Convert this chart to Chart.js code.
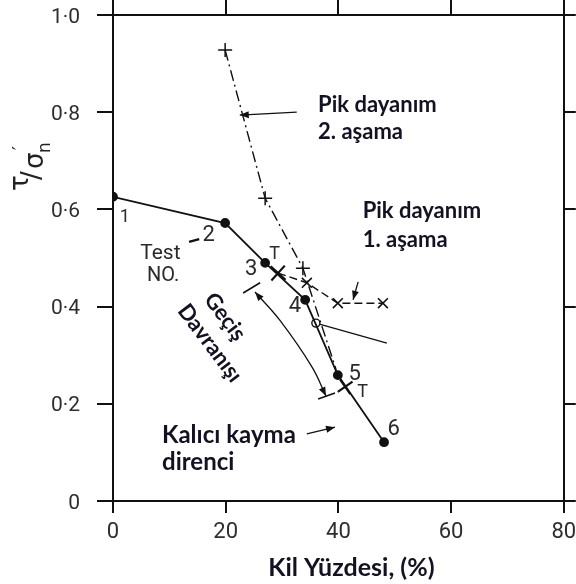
<!doctype html>
<html lang="tr">
  <head>
    <meta charset="UTF-8" />
    <title>Kil yüzdesi - kayma direnci</title>
    <script src="https://cdn.jsdelivr.net/npm/chart.js"></script>
    <style>
      html,
      body {
        margin: 0;
        padding: 0;
        background: #fff;
      }
    </style>
  </head>
  <body>
    <canvas id="clayChart" width="576" height="584"></canvas>

    <script>
      // test results: clay % vs tau / sigma_n'
      const testClay = [0, 19.9, 27.0, 34.1, 39.9, 48.1]
      const testRatio = [0.626, 0.572, 0.49, 0.414, 0.259, 0.121]
      const testNo = ['1', '2', '3', '4', '5', '6']

      // peak strength, stage 2 (+ marks)
      const stage2Clay = [19.9, 27.0, 33.7, 39.6]
      const stage2Ratio = [0.928, 0.623, 0.479, 0.27]

      // peak strength, stage 1 (x marks)
      const stage1Clay = [29.3, 34.4, 39.9, 47.9]
      const stage1Ratio = [0.469, 0.449, 0.407, 0.407]

      // transition marks "T"
      const transClay = [29.3, 41.2]
      const transRatio = [0.469, 0.235]

      // branch leaving the open circle
      const branchClay = [36.0, 48.6]
      const branchRatio = [0.366, 0.325]

      // curved range arrow (transitional behaviour) and its end bars
      const rangeClay = [25.2, 29.6, 35.3, 37.8]
      const rangeRatio = [0.43, 0.372, 0.276, 0.216]
      const capClay = [[23.1, 26.1], [36.4, 39.4]]
      const capRatio = [[0.428, 0.449], [0.21, 0.222]]

      // pointer arrows (from -> to)
      const pointerClay = [[32.6, 22.5], [43.5, 42.6], [34.4, 39.4], [13.5, 15.3]]
      const pointerRatio = [[0.8, 0.794], [0.451, 0.414], [0.138, 0.152], [0.533, 0.539]]

      // axis ticks
      const xTicks = [0, 20, 40, 60, 80]
      const yTicks = [0, 0.2, 0.4, 0.6, 0.8, 1.0]
      const yTickLabels = ['0', '0·2', '0·4', '0·6', '0·8', '1·0']

      const ink = '#111'
      const pts = (xs, ys) => xs.map((v, i) => ({ x: v, y: ys[i] }))

      function lineSet(data, extra) {
        return Object.assign(
          {
            data,
            showLine: true,
            borderColor: ink,
            backgroundColor: ink,
            borderWidth: 1.4,
            pointRadius: 0,
            tension: 0,
          },
          extra,
        )
      }

      const datasets = [
        lineSet(pts(testClay, testRatio), { borderWidth: 1.8, pointRadius: 4 }),
        lineSet(pts(stage2Clay, stage2Ratio), {
          borderDash: [11, 4, 2, 4],
          pointStyle: 'cross',
          pointRadius: [7, 7, 7, 0],
          pointBorderWidth: 1.5,
        }),
        lineSet(pts(stage1Clay, stage1Ratio), {
          borderDash: [8, 4],
          pointStyle: 'crossRot',
          pointRadius: [0, 7, 7, 7],
          pointBorderWidth: 1.6,
        }),
        lineSet(pts(transClay, transRatio), {
          showLine: false,
          pointStyle: 'cross',
          pointRadius: [10, 9],
          pointRotation: [42, 55],
          pointBorderWidth: 2.2,
        }),
        lineSet(pts(branchClay, branchRatio), {
          pointRadius: [4, 0],
          pointBackgroundColor: '#fff',
          pointBorderWidth: 1.4,
          borderWidth: 1.3,
        }),
        lineSet(pts(rangeClay, rangeRatio), { tension: 0.4, borderWidth: 1.3 }),
      ]
      capClay.forEach((c, i) => datasets.push(lineSet(pts(c, capRatio[i]), { borderWidth: 1.6 })))
      pointerClay.forEach((c, i) =>
        datasets.push(lineSet(pts(c, pointerRatio[i]), { borderWidth: i === 3 ? 2.4 : 1.3 })),
      )

      function head(ctx, x0, y0, x1, y1, len, half) {
        const a = Math.atan2(y1 - y0, x1 - x0)
        ctx.save()
        ctx.translate(x1, y1)
        ctx.rotate(a)
        ctx.beginPath()
        ctx.moveTo(0, 0)
        ctx.lineTo(-len, -half)
        ctx.lineTo(-len, half)
        ctx.closePath()
        ctx.fill()
        ctx.restore()
      }

      const overlay = {
        id: 'overlay',
        afterDatasetsDraw(chart) {
          const { ctx, chartArea } = chart
          const sx = chart.scales.x
          const sy = chart.scales.y
          const px = (v) => sx.getPixelForValue(v)
          const py = (v) => sy.getPixelForValue(v)
          ctx.save()
          ctx.fillStyle = ink

          // arrow heads
          for (let i = 0; i < 3; i++) {
            const c = pointerClay[i]
            const r = pointerRatio[i]
            head(ctx, px(c[0]), py(r[0]), px(c[1]), py(r[1]), 9, 3.5)
          }
          const n = rangeClay.length
          head(ctx, px(rangeClay[1]), py(rangeRatio[1]), px(rangeClay[0]), py(rangeRatio[0]), 9, 3.5)
          head(
            ctx,
            px(rangeClay[n - 2]),
            py(rangeRatio[n - 2]),
            px(rangeClay[n - 1]),
            py(rangeRatio[n - 1]),
            9,
            3.5,
          )

          // tick labels
          ctx.fillStyle = '#2e2e2e'
          ctx.textBaseline = 'alphabetic'
          ctx.font = '22px Roboto'
          ctx.textAlign = 'center'
          xTicks.forEach((v) => ctx.fillText(String(v), px(v), chartArea.bottom + 37))
          ctx.font = '21px Roboto'
          ctx.textAlign = 'right'
          yTicks.forEach((v, i) => ctx.fillText(yTickLabels[i], chartArea.left - 33, py(v) + 7.5))

          // test numbers and T marks
          ctx.fillStyle = '#2a2a2a'
          ctx.textAlign = 'center'
          ctx.textBaseline = 'middle'
          const numPos = [
            [2.1, 0.584],
            [17.0, 0.547],
            [24.5, 0.477],
            [32.3, 0.401],
            [42.9, 0.261],
            [49.8, 0.148],
          ]
          testNo.forEach((t, i) => {
            ctx.font = (i === 0 ? '18px' : '22px') + ' Roboto'
            ctx.fillText(t, px(numPos[i][0]), py(numPos[i][1]))
          })
          ctx.font = '18px Roboto'
          ctx.fillText('T', px(28.7), py(0.508))
          ctx.fillText('T', px(44.3), py(0.224))

          ctx.textBaseline = 'alphabetic'
          ctx.font = '21px Roboto'
          ctx.fillText('Test', px(8.4), py(0.498))
          ctx.font = '20px Roboto'
          ctx.fillText('NO.', px(8.9), py(0.453))

          // bold Turkish notes
          ctx.fillStyle = '#121222'
          ctx.textAlign = 'left'
          const notes = [
            { lines: ['Pik dayanım', '2. aşama'], x: 36.4, y: 0.8, size: 22, gap: 27 },
            { lines: ['Pik dayanım', '1. aşama'], x: 44.3, y: 0.582, size: 22, gap: 29 },
            { lines: ['Kalıcı kayma', 'direnci'], x: 8.7, y: 0.119, size: 24, gap: 27 },
          ]
          notes.forEach((nt) => {
            ctx.font = 'bold ' + nt.size + 'px Lato'
            nt.lines.forEach((l, k) => ctx.fillText(l, px(nt.x), py(nt.y) + k * nt.gap))
          })

          const rot = (53 * Math.PI) / 180
          ctx.font = 'bold 22px Lato'
          ;[
            ['Geçiş', 16.0, 0.414],
            ['Davranışı', 11.3, 0.391],
          ].forEach(([t, a, b]) => {
            ctx.save()
            ctx.translate(px(a), py(b))
            ctx.rotate(rot)
            ctx.fillText(t, 0, 0)
            ctx.restore()
          })

          // axis titles
          ctx.font = 'bold 25px Lato'
          ctx.textAlign = 'center'
          ctx.fillText('Kil Yüzdesi, (%)', (chartArea.left + chartArea.right) / 2 + 13, chartArea.bottom + 75)

          ctx.fillStyle = '#222'
          ctx.save()
          ctx.translate(chartArea.left - 70, chartArea.top + 176)
          ctx.rotate(-Math.PI / 2)
          ctx.textAlign = 'left'
          ctx.font = '26px DejaVu Sans'
          ctx.fillText('τ', 0, -15)
          ctx.fillText('/', 11, -3)
          ctx.fillText('σ', 22, 0)
          ctx.font = '17px DejaVu Sans'
          ctx.fillText('n', 38, 7)
          ctx.fillText('\u2032', 41, -18)
          ctx.restore()

          ctx.restore()
        },
      }

      const gridOpts = (len) => ({
        drawOnChartArea: false,
        drawTicks: true,
        tickLength: len,
        color: ink,
        lineWidth: 2,
      })
      const border = { display: true, color: ink, width: 2 }
      const axis = (pos, ticks, len, size) => ({
        type: 'linear',
        position: pos,
        min: ticks[0],
        max: ticks[ticks.length - 1],
        ticks: { stepSize: ticks[1] - ticks[0], display: false },
        grid: gridOpts(len),
        border,
        afterFit: (s) => {
          if (pos === 'top' || pos === 'bottom') s.height = size
          else s.width = size
        },
      })

      new Chart(document.getElementById('clayChart'), {
        type: 'scatter',
        data: { datasets },
        options: {
          responsive: false,
          animation: false,
          layout: { padding: 0 },
          plugins: { legend: { display: false }, tooltip: { enabled: false } },
          scales: {
            x: axis('bottom', xTicks, 12, 83),
            y: axis('left', yTicks, 16, 113),
            x2: axis('top', xTicks, 15, 15),
            y2: axis('right', yTicks, 12, 12),
          },
        },
        plugins: [overlay],
      })
    </script>
  </body>
</html>
